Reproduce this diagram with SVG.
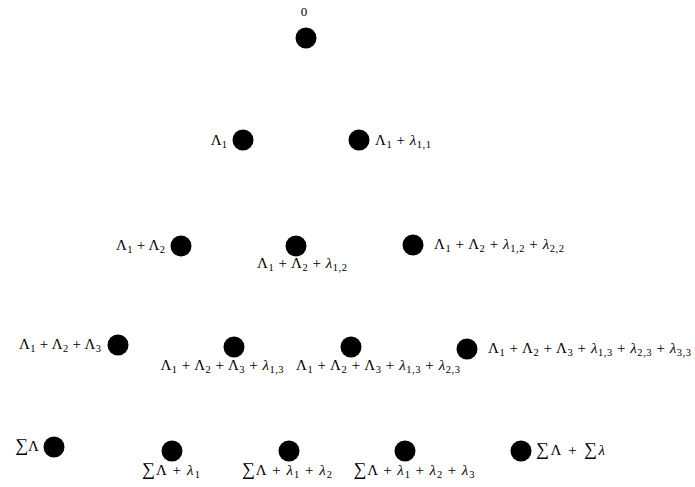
<svg xmlns="http://www.w3.org/2000/svg" width="695" height="487" viewBox="0 0 695 487">
<style>
.n{fill:#000}
text{font-family:"Liberation Serif","DejaVu Serif",serif;font-size:15px;fill:#000}
.s{font-size:10.5px}
.i{font-style:italic}
.g{font-size:18px}
.e{text-anchor:end}
.m{text-anchor:middle}
</style>
<rect width="695" height="487" fill="#fff"/>
<g id="connectors"></g>
<g id="n0"><circle class="n" cx="306" cy="38" r="10.5"/><text class="m" x="304" y="16" style="font-size:13px">0</text></g>
<g id="n1"><circle class="n" cx="243" cy="140" r="10.5"/><text class="e" x="227" y="145">Λ<tspan class="s" dy="3">1</tspan></text></g>
<g id="n2"><circle class="n" cx="359" cy="140" r="10.5"/><text x="375" y="145" textLength="56" lengthAdjust="spacing">Λ<tspan class="s" dy="3">1</tspan><tspan dy="-3"> + </tspan><tspan class="i">λ</tspan><tspan class="s" dy="3">1,1</tspan></text></g>
<g id="n3"><circle class="n" cx="181" cy="246" r="10.5"/><text class="e" x="165" y="250" textLength="49" lengthAdjust="spacing">Λ<tspan class="s" dy="3">1</tspan><tspan dy="-3"> + Λ</tspan><tspan class="s" dy="3">2</tspan></text></g>
<g id="n4"><circle class="n" cx="296" cy="246" r="10.5"/><text class="m" x="302" y="268" textLength="90" lengthAdjust="spacing">Λ<tspan class="s" dy="3">1</tspan><tspan dy="-3"> + Λ</tspan><tspan class="s" dy="3">2</tspan><tspan dy="-3"> + </tspan><tspan class="i">λ</tspan><tspan class="s" dy="3">1,2</tspan></text></g>
<g id="n5"><circle class="n" cx="413" cy="245" r="10.5"/><text x="434" y="249" textLength="130" lengthAdjust="spacing">Λ<tspan class="s" dy="3">1</tspan><tspan dy="-3"> + Λ</tspan><tspan class="s" dy="3">2</tspan><tspan dy="-3"> + </tspan><tspan class="i">λ</tspan><tspan class="s" dy="3">1,2</tspan><tspan dy="-3"> + </tspan><tspan class="i">λ</tspan><tspan class="s" dy="3">2,2</tspan></text></g>
<g id="n6"><circle class="n" cx="118" cy="345" r="10.5"/><text class="e" x="101" y="349" textLength="82" lengthAdjust="spacing">Λ<tspan class="s" dy="3">1</tspan><tspan dy="-3"> + Λ</tspan><tspan class="s" dy="3">2</tspan><tspan dy="-3"> + Λ</tspan><tspan class="s" dy="3">3</tspan></text></g>
<g id="n7"><circle class="n" cx="234" cy="347" r="10.5"/><text class="m" x="222" y="370" textLength="123" lengthAdjust="spacing">Λ<tspan class="s" dy="3">1</tspan><tspan dy="-3"> + Λ</tspan><tspan class="s" dy="3">2</tspan><tspan dy="-3"> + Λ</tspan><tspan class="s" dy="3">3</tspan><tspan dy="-3"> + </tspan><tspan class="i">λ</tspan><tspan class="s" dy="3">1,3</tspan></text></g>
<g id="n8"><circle class="n" cx="351" cy="347" r="10.5"/><text class="m" x="378" y="370" textLength="164" lengthAdjust="spacing">Λ<tspan class="s" dy="3">1</tspan><tspan dy="-3"> + Λ</tspan><tspan class="s" dy="3">2</tspan><tspan dy="-3"> + Λ</tspan><tspan class="s" dy="3">3</tspan><tspan dy="-3"> + </tspan><tspan class="i">λ</tspan><tspan class="s" dy="3">1,3</tspan><tspan dy="-3"> + </tspan><tspan class="i">λ</tspan><tspan class="s" dy="3">2,3</tspan></text></g>
<g id="n9"><circle class="n" cx="467" cy="349" r="10.5"/><text x="488" y="353" textLength="203" lengthAdjust="spacing">Λ<tspan class="s" dy="3">1</tspan><tspan dy="-3"> + Λ</tspan><tspan class="s" dy="3">2</tspan><tspan dy="-3"> + Λ</tspan><tspan class="s" dy="3">3</tspan><tspan dy="-3"> + </tspan><tspan class="i">λ</tspan><tspan class="s" dy="3">1,3</tspan><tspan dy="-3"> + </tspan><tspan class="i">λ</tspan><tspan class="s" dy="3">2,3</tspan><tspan dy="-3"> + </tspan><tspan class="i">λ</tspan><tspan class="s" dy="3">3,3</tspan></text></g>
<g id="n10"><circle class="n" cx="54" cy="447" r="10.5"/><text class="e" x="39" y="451"><tspan class="g">∑</tspan>Λ</text></g>
<g id="n11"><circle class="n" cx="172" cy="451" r="10.5"/><text class="m" x="171" y="475" textLength="58" lengthAdjust="spacing"><tspan class="g">∑</tspan>Λ + <tspan class="i">λ</tspan><tspan class="s" dy="3">1</tspan></text></g>
<g id="n12"><circle class="n" cx="289" cy="451" r="10.5"/><text class="m" x="287" y="475" textLength="90" lengthAdjust="spacing"><tspan class="g">∑</tspan>Λ + <tspan class="i">λ</tspan><tspan class="s" dy="3">1</tspan><tspan dy="-3"> + </tspan><tspan class="i">λ</tspan><tspan class="s" dy="3">2</tspan></text></g>
<g id="n13"><circle class="n" cx="405" cy="451" r="10.5"/><text class="m" x="414" y="475" textLength="121" lengthAdjust="spacing"><tspan class="g">∑</tspan>Λ + <tspan class="i">λ</tspan><tspan class="s" dy="3">1</tspan><tspan dy="-3"> + </tspan><tspan class="i">λ</tspan><tspan class="s" dy="3">2</tspan><tspan dy="-3"> + </tspan><tspan class="i">λ</tspan><tspan class="s" dy="3">3</tspan></text></g>
<g id="n14"><circle class="n" cx="521" cy="451" r="10.5"/><text x="536" y="455" textLength="69" lengthAdjust="spacing"><tspan class="g">∑</tspan>Λ + <tspan class="g">∑</tspan><tspan class="i">λ</tspan></text></g>
</svg>
